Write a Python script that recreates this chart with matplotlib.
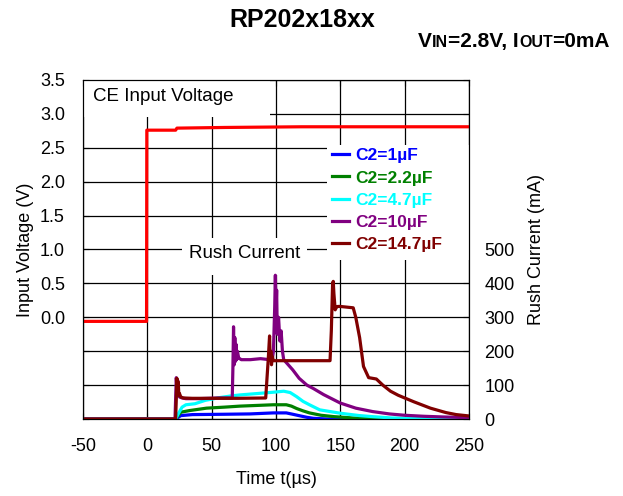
import matplotlib
matplotlib.use("Agg")
import matplotlib.pyplot as plt
from matplotlib.lines import Line2D
from matplotlib.patches import Rectangle
from matplotlib.offsetbox import TextArea, HPacker, AnchoredOffsetbox

plt.rcParams['font.family'] = ['Liberation Sans', 'DejaVu Sans']
plt.rcParams['axes.unicode_minus'] = False

# CE input voltage (V)
t_ce = [-50, -0.6, -0.4, 22, 23, 60, 120, 250]
v_ce = [-0.06, -0.06, 2.76, 2.76, 2.79, 2.80, 2.81, 2.81]

# rush current (mA) for each output capacitor
t_1u = [-50, 22, 24, 26, 35, 60, 80, 98, 108, 113, 119, 124, 129, 140, 250]
i_1u = [0, 0, 5, 10, 13, 14, 15, 18, 18, 14, 9, 5, 2, 0, 0]

t_22u = [-50, 22, 24, 26, 33, 46, 60, 72, 85, 98, 108, 112, 116, 121, 126, 135, 145, 160, 175, 250]
i_22u = [0, 0, 10, 20, 25, 32, 35, 38, 40, 42, 42, 38, 31, 24, 18, 11, 7, 3, 1, 0]

t_47u = [-50, 22, 24, 27, 30, 37, 45, 56, 65, 72, 85, 98, 106, 111, 116, 121, 126, 134, 150, 165, 175, 190, 250]
i_47u = [0, 0, 15, 35, 42, 45, 55, 63, 68, 71, 75, 79, 82, 78, 66, 52, 42, 27, 17, 10, 7, 3, 0]

t_10u = [-50, 21.5, 22, 22.5, 23, 23.5, 24, 25, 27, 30, 40, 55, 66, 66.5, 67, 67.5, 68, 68.5, 69,
         69.5, 70, 71, 73, 80, 88, 95, 97, 98, 99, 99.5, 100, 100.5, 101, 102, 103, 104, 105,
         106, 113, 118, 124, 129, 137, 150, 162, 175, 188, 200, 215, 230, 250]
i_10u = [0, 0, 60, 122, 90, 115, 75, 65, 62, 60, 60, 62, 62, 150, 272, 160, 240, 170, 220,
         175, 200, 180, 175, 175, 178, 175, 172, 200, 330, 424, 320, 380, 250, 300, 230, 260, 200,
         175, 145, 120, 100, 90, 72, 47, 32, 22, 15, 11, 8, 6, 4]

t_147u = [-50, 22, 22.5, 23, 23.5, 24, 24.5, 25, 26, 28, 35, 50, 70, 92, 93, 94, 95, 95.5, 96,
          96.5, 97, 98, 100, 110, 130, 142, 143, 144, 144.5, 145, 146, 147, 148, 150, 155, 160,
          162, 165, 168, 172, 178, 183, 189, 195, 207, 220, 232, 240, 250]
i_147u = [0, 0, 60, 120, 80, 110, 70, 75, 65, 62, 61, 61, 61, 62, 120, 178, 245, 175, 200,
          160, 185, 172, 172, 172, 172, 172, 260, 400, 406, 370, 322, 330, 332, 332, 330, 328,
          300, 240, 155, 122, 118, 100, 82, 70, 51, 32, 19, 13, 9]

series = [(t_1u, i_1u, '#0000ff', 'C2=1µF'),
          (t_22u, i_22u, '#008000', 'C2=2.2µF'),
          (t_47u, i_47u, '#00ffff', 'C2=4.7µF'),
          (t_10u, i_10u, '#800080', 'C2=10µF'),
          (t_147u, i_147u, '#800000', 'C2=14.7µF')]

fig = plt.figure(figsize=(6.23, 4.96), dpi=100)
ax = fig.add_axes([83 / 623, 1 - 419 / 496, 386 / 623, 339 / 496])
ax2 = ax.twinx()

ax.set_axisbelow(True)
ax.grid(True, color='black', linewidth=0.9)

# white boxes behind the in-plot labels and the legend
ax.add_patch(Rectangle((0, 0.891), 0.484, 0.109, transform=ax.transAxes,
                       facecolor='white', edgecolor='none', zorder=1))
ax.add_patch(Rectangle((0.256, 0.425), 0.324, 0.109, transform=ax.transAxes,
                       facecolor='white', edgecolor='none', zorder=1))
ax.add_patch(Rectangle(((327 - 83) / 386, (419 - 260) / 339), (469 - 327) / 386, 115 / 339,
                       transform=ax.transAxes, facecolor='white', edgecolor='none', zorder=1))
ax.text(0.026, 0.95, 'CE Input Voltage', transform=ax.transAxes, fontsize=13.5,
        va='center', ha='left', zorder=3)
ax.text(0.418, 0.487, 'Rush Current', transform=ax.transAxes, fontsize=13.5,
        va='center', ha='center', zorder=3)

ax.plot(t_ce, v_ce, color='#ff0000', linewidth=2.3, zorder=2)

for t, i, c, lab in series:
    ax2.plot(t, i, color=c, linewidth=2.3)

ax.set_xlim(-50, 250)
ax.set_ylim(-1.5, 3.5)
ax2.set_ylim(0, 1000)

yt = [-1.5, -1.0, -0.5, 0.0, 0.5, 1.0, 1.5, 2.0, 2.5, 3.0, 3.5]
ax.set_yticks(yt)
ax.set_yticklabels(['' if v < 0 else '%.1f' % v for v in yt])
ax.set_xticks([-50, 0, 50, 100, 150, 200, 250])
ax2.set_yticks([0, 100, 200, 300, 400, 500])

ax.tick_params(axis='both', direction='in', length=4, labelsize=13, top=True, right=True)
ax.tick_params(axis='y', pad=13)
ax.tick_params(axis='x', pad=14)
ax2.tick_params(axis='y', direction='in', length=0, labelsize=13, pad=11)

ax.set_xlabel('Time t(µs)', fontsize=13, labelpad=11)
ax.set_ylabel('Input Voltage (V)', fontsize=13, labelpad=4)
ax2.set_ylabel('Rush Current (mA)', fontsize=13, labelpad=10)

handles = [Line2D([], [], color=c, linewidth=2.3) for t, i, c, lab in series]
labels = [lab for t, i, c, lab in series]
leg = ax2.legend(handles, labels, loc='upper left', bbox_to_anchor=((327 - 83) / 386, 0.814),
                 frameon=False, prop={'size': 12.5, 'weight': 'bold'}, handlelength=0.95,
                 handletextpad=0.4, labelspacing=0.4, borderaxespad=0, borderpad=0.3)
for txt, (t, i, c, lab) in zip(leg.get_texts(), series):
    txt.set_color(c)

fig.text(302 / 623, 1 - 27 / 496, 'RP202x18xx', fontsize=18, fontweight='bold',
         ha='center', va='baseline')

parts = [('V', 15), ('IN', 11.5), ('=2.8V, I', 15), ('OUT', 11.5), ('=0mA', 15)]
boxes = [TextArea(s, textprops=dict(fontsize=fs, fontweight='bold')) for s, fs in parts]
pack = HPacker(children=boxes, align='baseline', pad=0, sep=0)
sub = AnchoredOffsetbox(loc='upper right', child=pack, pad=0, borderpad=0, frameon=False,
                        bbox_to_anchor=(610 / 623, 1 - 32 / 496),
                        bbox_transform=fig.transFigure)
fig.add_artist(sub)

fig.savefig('out.png', dpi=100)
